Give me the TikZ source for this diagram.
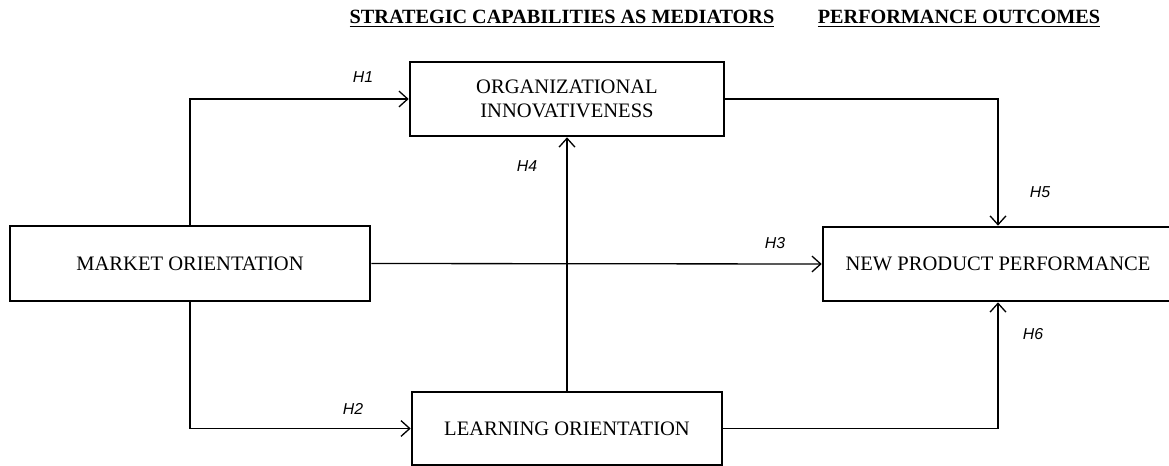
\documentclass[tikz,border=0pt]{standalone}
\usepackage{fontspec}
\setmainfont{Liberation Serif}
\newfontfamily\hipfont{Liberation Sans}
\usetikzlibrary{arrows.meta}
\begin{document}
\begin{tikzpicture}[
        x=0.02cm, y=-0.02cm,
        % Configuración de las cajas (constructos)
        caja/.style={draw, line width=1.5pt, align=center, inner sep=0pt,
            font=\fontsize{11.7}{13.5}\selectfont},
        % Configuración de las flechas (relaciones)
        flecha/.style={line width=0.75pt, -{Straight Barb[length=5pt,width=9pt]}},
        % Etiquetas de hipótesis
        hip/.style={font=\hipfont\itshape\fontsize{9}{10}\selectfont},
        % Encabezados
        titulo/.style={font=\bfseries\fontsize{11.5}{13}\selectfont}
    ]
        \useasboundingbox (0,0) rectangle (1169,466);

        % Encabezados de las columnas
        \node[titulo] (t1) at (562,19) {\underline{STRATEGIC CAPABILITIES AS MEDIATORS}};
        \node[titulo] (t2) at (959,19) {\underline{PERFORMANCE OUTCOMES}};

        % Definición de las cajas
        \node[caja, minimum width=7.2cm, minimum height=1.5cm] (mo) at (190,263.5) {MARKET ORIENTATION};
        \node[caja, minimum width=6.28cm, minimum height=1.48cm] (oi) at (567,99) {ORGANIZATIONAL\\INNOVATIVENESS};
        \node[caja, minimum width=6.2cm, minimum height=1.46cm] (lo) at (567,428.5) {LEARNING ORIENTATION};
        \node[caja, minimum width=7cm, minimum height=1.48cm] (npp) at (998,264) {NEW PRODUCT PERFORMANCE};

        % Relaciones e hipótesis
        \draw[flecha] (mo.north) |- (oi.west);
        \draw[flecha] (mo.south) |- (lo.west);
        \draw[flecha] (mo.east) -- (npp.west);
        \draw[flecha] (lo.north) -- (oi.south);
        \draw[flecha] (oi.east) -| (npp.north);
        \draw[flecha] (lo.east) -| (npp.south);

        \node[hip] (h1) at (363,77.5) {H1};
        \node[hip] (h2) at (353,409) {H2};
        \node[hip] (h3) at (775,243.5) {H3};
        \node[hip] (h4) at (527,166) {H4};
        \node[hip] (h5) at (1040,192) {H5};
        \node[hip] (h6) at (1033,334.5) {H6};

    \end{tikzpicture}
\end{document}
